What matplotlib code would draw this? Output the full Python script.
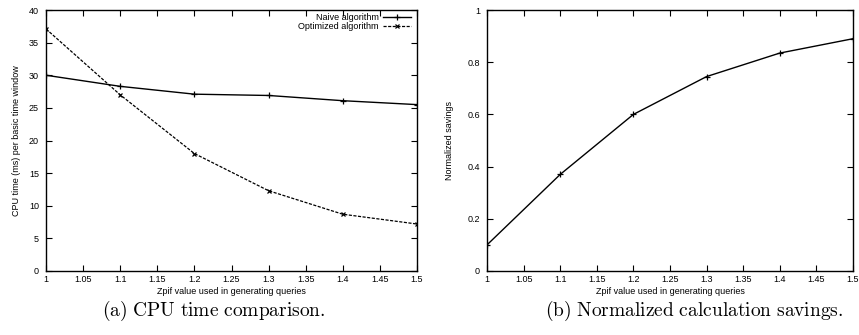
import matplotlib
matplotlib.use("Agg")
import matplotlib.pyplot as plt

zipf = [1.0, 1.1, 1.2, 1.3, 1.4, 1.5]
naive = [30.0, 28.3, 27.1, 26.9, 26.1, 25.5]
optimized = [37.1, 27.0, 18.0, 12.3, 8.7, 7.2]
savings = [0.10, 0.37, 0.60, 0.745, 0.835, 0.89]

xticks = [1, 1.05, 1.1, 1.15, 1.2, 1.25, 1.3, 1.35, 1.4, 1.45, 1.5]
xticklabels = ["1", "1.05", "1.1", "1.15", "1.2", "1.25", "1.3", "1.35", "1.4", "1.45", "1.5"]
yticks_a = [0, 5, 10, 15, 20, 25, 30, 35, 40]
yticks_b = [0, 0.2, 0.4, 0.6, 0.8, 1]
yticklabels_b = ["0", "0.2", "0.4", "0.6", "0.8", "1"]

W, H = 859, 335
fig = plt.figure(figsize=(W / 100, H / 100), dpi=100)
plt.rcParams['font.family'] = ['Liberation Sans', 'DejaVu Sans']
plt.rcParams['mathtext.fontset'] = 'cm'

def px_axes(x0, y0, x1, y1):
    return fig.add_axes([x0 / W, 1 - y1 / H, (x1 - x0) / W, (y1 - y0) / H])

def style(ax):
    ax.tick_params(direction='in', top=True, right=True, length=4, width=0.8,
                   labelsize=6.5, colors='black', pad=3)
    ax.tick_params(axis='y', pad=5)
    for s in ax.spines.values():
        s.set_linewidth(1.0)
    ax.set_xlim(1, 1.5)
    ax.set_xticks(xticks)
    ax.set_xticklabels(xticklabels)
    ax.set_xlabel("Zpif value used in generating queries", fontsize=6.5, labelpad=2)

ax1 = px_axes(46, 10, 417, 271)
ax1.plot(zipf, naive, color='black', lw=1.0, marker='+', ms=5, mew=0.9,
         label="Naive algorithm")
ax1.plot(zipf, optimized, color='black', lw=0.9, ls=(0, (2.5, 1.2)), marker='x', ms=3.5,
         mew=0.9, label="Optimized algorithm")
style(ax1)
ax1.set_ylim(0, 40)
ax1.set_yticks(yticks_a)
ax1.set_ylabel("CPU time (ms) per basic time window", fontsize=6.5, labelpad=6)
ax1.legend(loc='upper right', frameon=False, markerfirst=False, fontsize=6.5,
           handlelength=3.0, handletextpad=0.5, labelspacing=0.05,
           borderaxespad=0.1, borderpad=0.2, bbox_to_anchor=(0.99, 1.0))

ax2 = px_axes(487, 10, 853, 271)
ax2.plot(zipf, savings, color='black', lw=1.0, marker='+', ms=4, mew=0.9)
style(ax2)
ax2.set_ylim(0, 1)
ax2.set_yticks(yticks_b)
ax2.set_yticklabels(yticklabels_b)
ax2.set_ylabel("Normalized savings", fontsize=6.5, labelpad=10)

fig.text(214 / W, 1 - 316 / H, r"$\mathrm{(a)\ CPU\ time\ comparison.}$",
         ha='center', va='baseline', fontsize=14)
fig.text(694 / W, 1 - 316 / H, r"$\mathrm{(b)\ Normalized\ calculation\ savings.}$",
         ha='center', va='baseline', fontsize=14)

fig.savefig("out.png", dpi=100)
